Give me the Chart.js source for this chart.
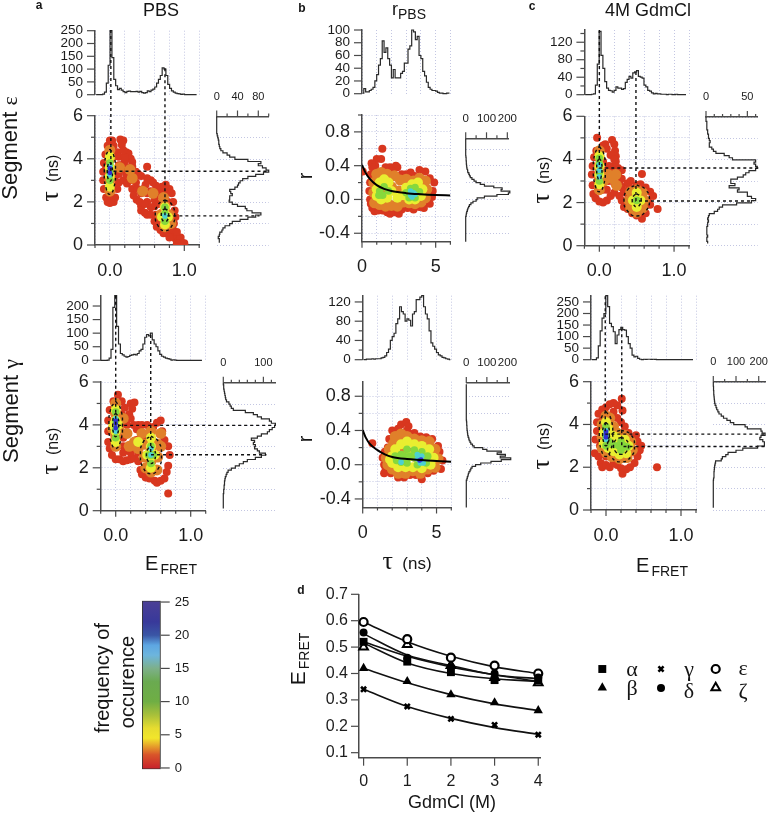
<!DOCTYPE html>
<html>
<head>
<meta charset="utf-8">
<script src="https://cdn.jsdelivr.net/npm/chart.js@4/dist/chart.umd.js"></script>
<style>
    html, body { margin: 0; padding: 0; background: #fff; }
    body { width: 769px; height: 813px; position: relative; overflow: hidden; }
    canvas { position: absolute; left: 0; top: 0; }
    .t { position: absolute; transform: translate(-50%, -50%); white-space: nowrap; color: #151515;
         font-family: "Liberation Sans", Arial, sans-serif; font-size: 18px; line-height: 1; }
    .rot { transform: translate(-50%, -50%) rotate(-90deg); }
    .tag { font-weight: bold; font-size: 12px; }
    .gk { font-family: "Liberation Serif", serif; }
    .sub { font-size: 14px; position: relative; top: 4px; margin-left: 2px; }
</style>
</head>
<body>
<div id="charts"></div>

<div class="t tag" style="left:39px;top:5px">a</div>
<div class="t tag" style="left:302px;top:8px">b</div>
<div class="t tag" style="left:532px;top:6px">c</div>
<div class="t tag" style="left:301px;top:590px">d</div>
<div class="t" style="left:161px;top:10px">PBS</div>
<div class="t" style="left:409px;top:9px">r<span class="sub" style="margin-left:0">PBS</span></div>
<div class="t" style="left:648px;top:10px">4M GdmCl</div>

<div class="t rot" style="left:10px;top:148px;font-size:22px">Segment <span class="gk">ε</span></div>
<div class="t rot" style="left:11px;top:411px;font-size:22px">Segment <span class="gk">γ</span></div>

<div class="t rot" style="left:50px;top:178px;font-size:16px"><span class="gk" style="font-size:26px">τ</span>&nbsp; (ns)</div>
<div class="t rot" style="left:50px;top:451px;font-size:16px"><span class="gk" style="font-size:26px">τ</span>&nbsp; (ns)</div>
<div class="t rot" style="left:305px;top:176px;font-size:20px">r</div>
<div class="t rot" style="left:305px;top:439px;font-size:20px">r</div>
<div class="t rot" style="left:541px;top:180px;font-size:16px"><span class="gk" style="font-size:26px">τ</span>&nbsp; (ns)</div>
<div class="t rot" style="left:541px;top:446px;font-size:16px"><span class="gk" style="font-size:26px">τ</span>&nbsp; (ns)</div>

<div class="t" style="left:171px;top:563px;font-size:20px">E<span class="sub">FRET</span></div>
<div class="t" style="left:407px;top:561px;font-size:17px"><span class="gk" style="font-size:26px">τ</span>&nbsp; (ns)</div>
<div class="t" style="left:662px;top:565px;font-size:20px">E<span class="sub">FRET</span></div>

<div class="t rot" style="left:102px;top:678px;font-size:20px">frequency of</div>
<div class="t rot" style="left:127px;top:682px;font-size:20px">occurence</div>

<div class="t rot" style="left:297px;top:659px;font-size:21px">E<span class="sub">FRET</span></div>
<div class="t" style="left:452px;top:802px">GdmCl (M)</div>

<div class="t gk" style="left:632px;top:669px;font-size:22px">α</div>
<div class="t gk" style="left:689px;top:669px;font-size:22px">γ</div>
<div class="t gk" style="left:743px;top:668px;font-size:22px">ε</div>
<div class="t gk" style="left:632px;top:688px;font-size:22px">β</div>
<div class="t gk" style="left:689px;top:691px;font-size:22px">δ</div>
<div class="t gk" style="left:743px;top:691px;font-size:22px">ζ</div>

<script>
// top histograms, one value per bin
const aTopE = [0,0,0,0,2,10,45,115,250,145,60,35,20,25,18,12,8,13,14,12,12,12,13,10,13,8,6,8,15,12,18,22,30,45,60,75,105,100,75,40,25,15,10,6,4,3,1,2,0,0,0,0,0,0,0];
const aBottomE = [0,0,0,0,1,8,40,195,238,125,60,25,20,15,12,14,18,20,22,20,25,35,40,60,85,95,90,100,75,60,50,35,22,15,12,8,6,4,1,2,1,0,0,0,0,0,0,0,0,0,0,0,0,0,0];
const bTopTau = [1,8,3,3,5,7,10,20,30,45,55,83,65,72,55,45,25,38,25,25,25,32,35,48,48,70,75,100,97,85,90,60,55,35,28,18,10,7,5,5,4,2,1,1,0,0,1,1];
const bBottomTau = [0,0,1,1,1,2,1,2,2,2,4,5,8,15,22,40,48,55,75,85,110,100,95,80,85,82,70,95,100,125,125,130,133,110,95,85,60,35,28,22,15,10,8,5,4,2,1,0];
const cTopE = [0,0,0,0,1,2,22,70,145,90,60,30,15,10,9,6,10,18,15,15,12,14,28,35,42,38,50,52,55,42,40,38,22,18,10,8,4,2,3,2,2,1,1,1,0,1,1,0,0,1,0,0,0,0,0];
const cBottomE = [0,0,0,8,60,125,180,200,277,230,157,143,121,70,107,130,140,130,128,100,70,50,20,12,15,6,2,0,2,1,2,2,1,2,1,0,0,0,0,0,0,0,0,0,0,0,0,0,0,0,0,0,0,0,0];

// side histograms, lifetime from 0.1 to 6.0 ns
const aTopTauSide = [5,5,3,5,6,10,12,16,25,30, 45,60,75,85,68,58,55,40,30,24, 25,25,30,27,25,35,40,42,45,50, 60,75,90,100,95,88,80,85,60,35, 25,20,12,8,6,5,4,4,3,2, 1,0,0,0,0,0,0,0,0,0];
const aBottomTauSide = [0,0,0,0,0,0,0,1,1,2, 2,3,3,4,5,7,9,12,20,30, 40,50,60,80,95,105,90,85,78,80, 75,78,70,85,95,110,115,122,128,130, 120,115,95,85,75,55,25,20,17,14, 8,6,5,4,3,2,1,1,0,0];
const cTopTauSide = [2,1,1,2,1,1,1,1,2,2, 3,2,3,4,10,14,16,20,37,55, 60,55,50,50,38,40,28,35,30,30, 38,45,48,52,60,62,60,58,60,32, 28,22,12,9,7,4,4,5,4,3, 3,2,2,1,1,1,1,0,0,0];
const cBottomTauSide = [0,0,0,0,0,0,0,0,0,0, 0,0,0,1,3,3,3,4,5,6, 8,10,35,40,55,65,100,130,195,225, 225,218,205,210,228,215,210,150,140,90, 75,60,45,35,25,20,15,12,8,6, 5,4,3,2,2,1,1,0,0,0];

// side histograms of r, from -0.5 in steps of 0.02
const bTopRSide = [0,0,0,0,0,0,0,0,0,0,0,0,0,0,0,2,3,5,8,10,14,18,25,35,50,55,90,150,205,212,170,175,135,90,70,50,40,30,22,18,15,10,9,6,5,4,3,3,2,2,1,0,0,0,0,0,0,0,0,0,0,0];
const bBottomRSide = [0,0,0,0,0,0,0,0,0,0,0,0,0,0,0,0,3,5,8,10,13,18,22,28,45,70,120,170,216,165,190,150,170,100,80,38,30,22,18,14,12,9,7,6,5,4,3,3,2,2,1,0,0,0,0,0,0,0,0,0,0,0,0,0,0,0,0,0,0,0,0,0,0];

// frequency clouds: [E or tau, tau or r], lowest frequency first
const aTopRed = [[0,4.85],[0.03,4.85],[-0.03,4.6],[0.05,4.6],[0.14,4.9],[0.18,4.85],[0.16,4.65],[0.22,4.3],[0.25,4.25],[-0.06,4.2],[0.1,4.3],[0.12,4.1],[-0.08,3.8],[0.28,4],[0.3,3.85],[0.3,3.65],[0.2,3.9],[-0.09,3.4],[-0.09,3],[-0.08,2.6],[-0.05,2.2],[-0.03,2],[0,1.95],[0.05,2],[0.07,2.2],[0.1,2.6],[0.12,2.9],[0.18,3],[0.23,2.85],[0.3,2.6],[0.32,2.3],[0.36,2.1],[0.4,2],[0.42,1.8],[0.42,1.6],[0.47,1.5],[0.5,1.4],[0.55,1.4],[0.6,1.1],[0.63,0.85],[0.68,0.7],[0.72,0.55],[0.77,0.55],[0.82,0.6],[0.85,0.5],[0.88,0.3],[0.92,0.2],[0.95,0.35],[0.97,0.1],[1,0.08],[0.9,0.08],[0.86,1],[0.88,1.3],[0.87,1.6],[0.85,2],[0.83,2.4],[0.8,2.6],[0.75,2.8],[0.7,2.7],[0.62,2.75],[0.55,3],[0.5,3.1],[0.5,3.63],[0.42,3.2],[0.38,3.3],[0.35,3.4],[0.3,3.3],[0.2,3.5],[0.15,3.5],[0.25,3.2],[0.35,2.9],[0.45,2.6],[0.55,2.5],[0.65,2.3],[0.5,2],[0.6,1.8],[0.7,1.5],[0.75,1],[0.8,1],[0.78,2],[0.42,2.4],[0.28,3],[0.15,3.7],[0.2,4.1],[0.12,3.3],[0.12,3.7],[0.18,4.4],[0.24,3.6],[0.22,3.3],[0.33,3.1],[0.37,2.6],[0.48,2.8],[0.58,2.9],[0.65,2.55],[0.72,2.4],[0.5,2.4],[0.6,2.1],[0.55,1.75],[0.47,1.9],[0.65,1.9],[0.62,1.4],[0.68,1],[0.85,0.7],[0.9,0.6],[0.8,0.35],[0.05,4.1],[0,4.4],[-0.05,3.6],[0.07,3.2],[0.07,2.7],[0,2.3],[0.75,2.4]];
const aTopOrange = [[0,2.5],[0,3],[0,3.5],[0,4],[0,4.4],[0.13,3.6],[0.27,3.5],[0.3,3.1],[0.44,2.5],[0.58,2.4],[0.74,0.85],[0.74,1.3],[0.74,1.8],[0.72,2.2],[0.68,1.4],[0.8,1.4],[0.82,1]];
const aTopYellow = [[0,2.7],[0,3.2],[0,3.6],[0,4.1],[0.74,0.95],[0.74,1.4],[0.74,1.75],[0.7,1.3],[0.78,1.3]];
const aTopGreen = [[0,3],[0,3.4],[0,3.8],[0.74,1.1],[0.74,1.45],[0.74,1.75]];
const aTopCyan = [[0,3.25],[0,3.65],[0.74,1.35]];
const aTopBlue = [[0,3.35],[0,3.55]];

const aBottomRed = [[0.03,5.4],[-0.03,5.1],[0.08,5.1],[0.12,4.8],[0.2,5],[0.25,5.05],[0.22,4.75],[0.18,4.5],[0.2,4.3],[0.24,4],[0.28,3.8],[-0.08,4.7],[-0.1,4.2],[-0.1,3.7],[-0.1,3.2],[-0.08,2.9],[-0.05,2.6],[0,2.4],[0.05,2.4],[0.1,2.3],[0.15,2.35],[0.2,2.4],[0.25,2.45],[0.3,2.3],[0.33,1.9],[0.35,1.7],[0.4,1.55],[0.45,1.5],[0.52,1.4],[0.55,1.3],[0.6,1.4],[0.65,1.5],[0.68,1.8],[0.7,2.1],[0.72,2.6],[0.7,3],[0.65,3.3],[0.62,3.7],[0.6,4.2],[0.55,4.1],[0.5,3.9],[0.42,4],[0.35,4],[0.3,4],[0.7,0.8],[0.1,3],[0.2,3],[0.3,2.7],[0.15,3.6],[0.1,3.4],[0.1,2.7],[0.2,2.7],[0.28,3.3],[0.36,3.4],[0.15,4],[0.08,4.5]];
const aBottomOrange = [[0,3],[0,3.5],[0,4],[0,4.5],[0,5],[-0.04,3.8],[0.04,3.8],[0.1,4.3],[0.15,3.6],[0.18,3],[0.25,3.2],[0.3,2.9],[0.47,1.8],[0.47,2.3],[0.47,2.8],[0.47,3.3],[0.47,3.7],[0.38,2.5],[0.56,2.5],[0.38,3.1],[0.56,3.1],[0.6,3],[0.55,1.9],[0.4,2],[0.35,3.6],[0.6,3.6]];
const aBottomYellow = [[0,3.2],[0,3.7],[0,4.2],[0,4.7],[-0.03,4],[0.03,4],[0.47,2],[0.47,2.5],[0.47,3],[0.47,3.4],[0.42,2.6],[0.52,2.6],[0.3,3.2]];
const aBottomGreen = [[0,3.4],[0,3.8],[0,4.2],[0,4.6],[0.47,2.2],[0.47,2.6],[0.47,3],[0.44,2.6],[0.5,2.6]];
const aBottomCyan = [[0,3.7],[0,4.3],[0.47,2.6],[0.47,2.9]];
const aBottomBlue = [[0,3.85],[0,4.05],[0,4.2]];

const bTopRed = [[1.38,0.6],[1,0.48],[1.3,0.48],[0.9,0.4],[0.65,0.43],[0.7,0.38],[0.05,0.33],[0.6,0.3],[0.55,0.2],[0.5,0.1],[0.55,0],[0.6,-0.05],[0.7,-0.1],[0.85,-0.14],[1.1,-0.13],[1.4,-0.13],[1.7,-0.15],[1.9,-0.17],[2.2,-0.15],[2.5,-0.17],[2.7,-0.12],[3.1,-0.1],[3.5,-0.12],[3.9,-0.09],[4.2,-0.1],[4.6,-0.05],[4.75,0.03],[4.8,0.1],[4.9,0.2],[4.6,0.25],[4.3,0.33],[3.9,0.35],[3.5,0.28],[3.3,0.32],[3,0.3],[2.7,0.3],[2.4,0.38],[2.3,0.4],[1.9,0.38],[1.6,0.38],[1.3,0.3],[0.8,0.3],[2.1,0.33]];
const bTopOrange = [[1,0.3],[1.3,0.32],[1.7,0.3],[0.8,0.2],[0.8,0.08],[0.85,-0.04],[1.2,-0.06],[1.6,-0.08],[2,-0.07],[2.4,-0.08],[2.8,-0.03],[3.2,-0.04],[3.6,-0.05],[4,-0.03],[4.3,0.02],[4.4,0.12],[4.3,0.22],[3.9,0.25],[3.5,0.22],[3,0.24],[2.6,0.23],[2.2,0.28],[2,0.15],[2.5,0.1],[1.5,0.1]];
const bTopYellow = [[1.2,0.2],[1.5,0.24],[1.8,0.2],[1,0.12],[1,0.04],[1.3,0],[1.7,0.02],[2,0.1],[2.4,0.02],[2.8,0.05],[3.2,0],[3.6,0],[4,0.04],[4.1,0.12],[3.8,0.2],[3.4,0.18],[3,0.14]];
const bTopGreen = [[1.2,0.1],[1.5,0.15],[1.8,0.1],[1.4,0.05],[1.15,0.05],[3,0.08],[3.3,0.13],[3.6,0.14],[3.9,0.09],[3.6,0.02],[3.2,0.02],[3.4,0.08]];
const bTopCyan = [[3.3,0.05],[3.5,0.08],[3.4,0.03],[3.6,0.06],[3.3,0.1]];
const bTopBlue = [];

const bBottomRed = [[0.65,0.25],[2,0.4],[2.4,0.42],[2.6,0.47],[2.95,0.5],[3.1,0.45],[2.6,0.3],[1.8,0.3],[1.7,0.2],[1.5,0.15],[1.35,0.08],[1.45,0],[1.55,-0.05],[1.45,-0.1],[1.9,-0.1],[2.4,-0.15],[2.8,-0.15],[3.2,-0.12],[3.6,-0.12],[4,-0.17],[4.4,-0.1],[4.8,-0.07],[5.3,-0.05],[5.4,0.05],[5.2,0.15],[5.1,0.22],[4.7,0.3],[4.3,0.32],[3.9,0.33],[3.5,0.37],[3.2,0.36],[2.9,0.38],[2.1,0.28],[3,0.4]];
const bBottomOrange = [[2.2,0.33],[2.6,0.36],[3,0.33],[2.9,0.3],[3.5,0.3],[4,0.28],[4.5,0.27],[4.9,0.18],[5.1,0.07],[4.9,-0.03],[4.4,-0.05],[3.9,-0.1],[3.4,-0.07],[2.9,-0.1],[2.4,-0.1],[2,-0.05],[1.7,0],[1.6,0.08],[1.8,0.18],[2.1,0.25],[2.5,0.15],[3,0.15],[3.5,0.1],[4,0.1],[2.2,0.05]];
const bBottomYellow = [[2,0.1],[2.2,0.18],[2.6,0.24],[3,0.27],[3.5,0.24],[4,0.22],[4.5,0.18],[4.8,0.08],[4.6,0],[4,-0.04],[3.4,-0.03],[2.9,-0.03],[2.4,-0.03],[2,0.02],[1.85,0.06],[2.6,0.1],[3.2,0.1],[3.8,0.1]];
const bBottomGreen = [[2.3,0.05],[2.6,0.12],[3,0.18],[3.5,0.17],[4,0.15],[4.4,0.1],[4.3,0.02],[3.7,0],[3,0.02],[2.6,0.03],[2.2,0.1],[3.2,0.1],[2.8,0.1],[3.5,0.08],[4,0.08]];
const bBottomCyan = [[2.6,0.03],[3.7,0.07],[4,0.1],[4.1,0.02],[3.9,0.02],[3.7,0.12]];
const bBottomBlue = [[3.95,0.06],[3.85,0.05]];

const cTopRed = [[-0.03,5],[0.08,4.7],[0.17,4.9],[0.2,4.7],[0.21,4.4],[0.22,4.15],[0.22,3.9],[0.05,4.65],[0.1,4.5],[-0.04,4.4],[-0.07,4.1],[-0.09,3.7],[-0.1,3.3],[-0.09,2.8],[-0.08,2.4],[-0.05,2.2],[0,2.05],[0.05,2],[0.1,2.1],[0.15,2.3],[0.2,2.45],[0.27,2.3],[0.25,3],[0.3,3.1],[0.3,3.5],[0.25,3.6],[0.2,3.7],[0.38,2.9],[0.42,3],[0.57,3.32],[0.55,2.85],[0.62,2.7],[0.68,2.5],[0.72,2.3],[0.78,1.7],[0.68,1.9],[0.62,1.5],[0.57,1.25],[0.5,1.4],[0.44,1.5],[0.38,1.7],[0.33,1.8],[0.3,2.1],[0.6,1.7],[0.65,2.1],[0.38,2.4],[0.5,2.8],[0.45,2.6],[0.3,2.7],[0.2,2.9],[0.12,3],[0.13,3.7],[0.15,4.2],[0.05,2.6],[0.1,2.6],[0.25,3.3],[0.28,2.8],[0.33,2.5],[0.2,4],[0.15,3.3],[0.1,3.5],[0.18,3.5],[0.05,3.9],[0.4,2.7],[0.48,1.7],[0.55,1.5],[0.52,2.5]];
const cTopOrange = [[0,2.6],[0,3.1],[0,3.6],[0,4.1],[0,4.4],[0.06,3],[0.12,3.3],[0.18,3.1],[0.23,2.8],[0.22,3.3],[0.5,1.55],[0.5,2.1],[0.5,2.6],[0.4,2.1],[0.6,2.1],[0.42,1.75],[0.58,1.75],[0.42,2.5],[0.58,2.45]];
const cTopYellow = [[0,2.85],[0,3.3],[0,3.7],[0,4.15],[0.5,1.8],[0.5,2.15],[0.5,2.45],[0.45,2.1],[0.55,2.1]];
const cTopGreen = [[0,3],[0,3.4],[0,3.8],[0,4.05],[0.5,2.1]];
const cTopCyan = [[0,3.5],[0,3.2],[0,3.75]];
const cTopBlue = [];

const cBottomRed = [[0.21,5.2],[0.22,4.65],[0.15,4.9],[0.1,5],[0.05,4.95],[0,4.8],[-0.05,4.7],[-0.1,4.5],[-0.12,4.1],[-0.12,3.7],[-0.14,3.3],[-0.15,2.65],[-0.1,2.5],[-0.07,2.2],[-0.05,2],[0,2.1],[0.05,2],[0.1,2.2],[0.15,2.1],[0.2,1.95],[0.22,1.7],[0.27,1.9],[0.32,2],[0.38,2.2],[0.42,2.5],[0.45,2.8],[0.47,3],[0.42,3.2],[0.4,3.5],[0.3,3.6],[0.25,3.9],[0.2,4.1],[0.15,4.3],[0.1,4.6],[0.68,2],[-0.08,3],[-0.05,4.2],[0.1,3.6],[0.35,2.7],[0.12,2.4],[0,2.5]];
const cBottomOrange = [[-0.05,3.4],[-0.05,4],[0,4.4],[0.05,4.3],[0.1,3.9],[0.15,3.6],[0.25,3.5],[0.33,3.2],[0.35,2.8],[0.28,2.45],[0.18,2.4],[0.08,2.5],[0,2.7],[-0.05,2.9],[0.12,3],[0.22,3]];
const cBottomYellow = [[-0.03,3.1],[-0.03,3.6],[0,4.1],[0.03,3.8],[0.08,3.5],[0.14,3.4],[0.25,3.3],[0.3,3],[0.27,2.65],[0.18,2.6],[0.1,2.75],[0.03,2.9],[0.05,3.2],[0.18,3]];
const cBottomGreen = [[0,3],[0,3.4],[0,3.9],[0.04,3.2],[0.1,3.05],[0.17,3],[0.24,3],[0.28,2.95],[0.2,2.8],[0.2,3.2]];
const cBottomCyan = [[0,3.7],[0,3.3],[0,3.5]];
const cBottomBlue = [[0,3.55],[0,3.4],[0,3.65]];

// contour rings, split by NaN
const N = [NaN, NaN];
const aTopRings = [[0,4.45],[0.053,4.14],[0.075,3.4],[0.053,2.66],[0,2.35],[-0.053,2.66],[-0.075,3.4],[-0.053,4.14],[0,4.45],N,
    [0,3.85],[0.025,3.72],[0.035,3.4],[0.025,3.08],[0,2.95],[-0.025,3.08],[-0.035,3.4],[-0.025,3.72],[0,3.85],N,
    [0.74,2.1],[0.83,1.88],[0.87,1.38],[0.83,0.88],[0.74,0.66],[0.65,0.88],[0.61,1.38],[0.65,1.88],[0.74,2.1],N,
    [0.74,1.68],[0.775,1.59],[0.79,1.38],[0.775,1.17],[0.74,1.08],[0.705,1.17],[0.69,1.38],[0.705,1.59],[0.74,1.68]];
const aBottomRings = [[0,5.1],[0.063,4.77],[0.09,4],[0.063,3.23],[0,2.9],[-0.063,3.23],[-0.09,4],[-0.063,4.77],[0,5.1],N,
    [0,4.55],[0.028,4.39],[0.04,4],[0.028,3.61],[0,3.45],[-0.028,3.61],[-0.04,4],[-0.028,4.39],[0,4.55],N,
    [0.47,3.48],[0.57,3.22],[0.61,2.6],[0.57,1.98],[0.47,1.72],[0.37,1.98],[0.33,2.6],[0.37,3.22],[0.47,3.48],N,
    [0.47,3],[0.51,2.88],[0.53,2.6],[0.51,2.32],[0.47,2.2],[0.43,2.32],[0.41,2.6],[0.43,2.88],[0.47,3]];
const cTopRings = [[0,4.6],[0.056,4.29],[0.08,3.55],[0.056,2.81],[0,2.5],[-0.056,2.81],[-0.08,3.55],[-0.056,4.29],[0,4.6],N,
    [0,4.05],[0.025,3.9],[0.035,3.55],[0.025,3.2],[0,3.05],[-0.025,3.2],[-0.035,3.55],[-0.025,3.9],[0,4.05],N,
    [0.5,2.82],[0.62,2.6],[0.67,2.1],[0.62,1.6],[0.5,1.38],[0.38,1.6],[0.33,2.1],[0.38,2.6],[0.5,2.82],N,
    [0.5,2.4],[0.54,2.31],[0.56,2.1],[0.54,1.89],[0.5,1.8],[0.46,1.89],[0.44,2.1],[0.46,2.31],[0.5,2.4]];
const cBottomRings = [[0,4.6],[0.063,4.29],[0.09,3.55],[0.063,2.81],[0,2.5],[-0.063,2.81],[-0.09,3.55],[-0.063,4.29],[0,4.6],N,
    [0,4.1],[0.03,3.94],[0.045,3.55],[0.03,3.16],[0,3],[-0.03,3.16],[-0.045,3.55],[-0.03,3.94],[0,4.1],N,
    [0.2,3.75],[0.33,3.52],[0.38,3],[0.33,2.48],[0.2,2.25],[0.07,2.48],[0.02,3],[0.07,3.52],[0.2,3.75],N,
    [0.2,3.4],[0.27,3.28],[0.3,3],[0.27,2.72],[0.2,2.6],[0.13,2.72],[0.1,3],[0.13,3.28],[0.2,3.4]];

// guides from the top histogram peak, through the cloud, to the side histogram peak
const aTopGuides = [[0.013,9.98],[0.013,3.42],[2.12,3.42],N,[0.74,8.2],[0.74,1.35],[2.01,1.35]];
const aBottomGuides = [[0,10.02],[0,3.98],[2.12,3.98],N,[0.467,8.19],[0.467,2.61],[2.01,2.61]];
const cTopGuides = [[0,10],[0,3.6],[2.13,3.6],N,[0.49,8.05],[0.49,2.07],[2.06,2.07]];
const cBottomGuides = [[-0.01,10],[-0.01,3.55],[2.13,3.55],N,[0.21,8.5],[0.21,2.97],[2.12,2.97]];

// anisotropy curves in panel b
const bTopCurve = [[0,0.41],[0.2,0.33],[0.5,0.25],[1,0.17],[1.5,0.125],[2,0.1],[3,0.075],[4,0.062],[5,0.053],[6,0.047]];
const bBottomCurve = [[0,0.405],[0.2,0.32],[0.5,0.24],[1,0.17],[1.5,0.12],[2,0.09],[3,0.066],[4,0.055],[5,0.043],[6,0.035]];
const bStrayDot = [[0,1.254]];

// panel d
const gdmcl = [0, 1, 2, 3, 4];
const alphaValues = [0.52, 0.445, 0.405, 0.375, 0.375];
const betaValues = [0.42, 0.37, 0.32, 0.29, 0.26];
const gammaValues = [0.34, 0.275, 0.228, 0.205, 0.168];
const deltaValues = [0.555, 0.46, 0.425, 0.4, 0.385];
const epsilonValues = [0.595, 0.53, 0.46, 0.43, 0.4];
const zetaValues = [0.5, 0.51, 0.43, 0.385, 0.365];
const alphaFit = [0.515, 0.44, 0.4, 0.38, 0.37];
const betaFit = [0.42, 0.365, 0.32, 0.285, 0.26];
const gammaFit = [0.34, 0.275, 0.23, 0.195, 0.17];
const deltaFit = [0.55, 0.47, 0.43, 0.395, 0.38];
const epsilonFit = [0.595, 0.52, 0.465, 0.425, 0.4];
const zetaFit = [0.52, 0.465, 0.425, 0.395, 0.37];

// colour bar
const frequencyRange = [-0.2, 25.2];
const frequencyStops = [0, 2, 4.5, 6, 8, 10, 13, 15, 17, 18.5, 20, 22, 25];
const frequencyColors = ["#c8242b", "#d9552a", "#f2e62b", "#e6dc30", "#a8c03a", "#6fae44", "#6aaa50", "#7db08a", "#6db5dd", "#5da6e2", "#3a56a5", "#38399a", "#4a3f96"];

const W = 769, H = 813;
const AXIS_BOX = 50; // room kept for tick labels, they are clipped to the scale box
const FONT = '"Liberation Sans", Arial, sans-serif';
const GRID = "#c3c6e2", AXIS = "#4a4a4a", INK = "#1c1c1c";
const LEVELS = [
    { color: "#d8371f", r: 4 },
    { color: "#e0802a", r: 5.5 },
    { color: "#e9ee30", r: 5 },
    { color: "#86d83c", r: 3.8 },
    { color: "#4cd0d0", r: 2.8 },
    { color: "#2f2fd0", r: 2.4 },
];

const xy = (rows) => rows.map((p) => ({ x: p[0], y: p[1] }));
const bins = (values, start, step) => values.map((v, i) => ({ x: start + i * step, y: v }));
const sideBins = (values, start, step) => values.map((v, i) => ({ x: v, y: start + i * step }));

// major and minor tick marks, the library only has one length
const tickMarks = {
    id: "tickMarks",
    afterDraw(chart) {
        const ctx = chart.ctx;
        Object.values(chart.scales).forEach((s) => {
            if (!s.options.markMajor) return;
            ctx.save();
            ctx.strokeStyle = AXIS;
            ctx.lineWidth = 1.2;
            s.ticks.forEach((t) => {
                const len = t.label !== "" ? s.options.markMajor : s.options.markMinor;
                const p = s.getPixelForValue(t.value);
                ctx.beginPath();
                if (s.options.position === "left") { ctx.moveTo(s.right, p); ctx.lineTo(s.right - len, p); }
                if (s.options.position === "right") { ctx.moveTo(s.left, p); ctx.lineTo(s.left + len, p); }
                if (s.options.position === "bottom") { ctx.moveTo(p, s.top); ctx.lineTo(p, s.top + len); }
                if (s.options.position === "top") { ctx.moveTo(p, s.bottom); ctx.lineTo(p, s.bottom - len); }
                ctx.stroke();
            });
            ctx.restore();
        });
    },
};

function axis(o) {
    const horizontal = o.pos === "bottom" || o.pos === "top";
    const shown = o.labels || [];
    return {
        type: "linear",
        position: o.pos,
        min: o.min,
        max: o.max,
        markMajor: o.major || 0,
        markMinor: o.minor || 0,
        afterFit(s) {
            if (horizontal) s.height = AXIS_BOX; else s.width = AXIS_BOX;
            s.paddingLeft = s.paddingRight = s.paddingTop = s.paddingBottom = 0;
        },
        grid: { display: !!o.grid, drawTicks: false, color: GRID, lineWidth: 1 },
        border: { display: !!o.line, color: AXIS, width: 1.5, dash: [1, 2] },
        ticks: {
            display: !!o.labels,
            stepSize: o.step,
            includeBounds: false,
            autoSkip: false,
            maxRotation: 0,
            minRotation: 0,
            padding: o.pad || 0,
            color: INK,
            font: { family: FONT, size: o.size || 12 },
            callback: (v) => {
                const value = Math.abs(v) < 1e-9 ? 0 : v;
                return shown.some((l) => Math.abs(l - value) < 1e-6) ? value.toFixed(o.digits || 0) : "";
            },
        },
    };
}

function plot(rect, datasets, scales, type) {
    const canvas = document.createElement("canvas");
    canvas.width = W;
    canvas.height = H;
    document.getElementById("charts").appendChild(canvas);
    const padding = { left: rect[0], top: rect[1], right: W - rect[2], bottom: H - rect[3] };
    Object.values(scales).forEach((s) => { if (s.display !== false) padding[s.position] -= AXIS_BOX; });
    return new Chart(canvas.getContext("2d"), {
        type: type || "scatter",
        data: type === "bar" ? datasets : { datasets },
        options: {
            responsive: false,
            animation: false,
            events: [],
            layout: { padding },
            plugins: { legend: { display: false }, tooltip: { enabled: false } },
            scales,
        },
        plugins: [tickMarks],
    });
}

const stepLine = (data, stepped) => ({
    data, stepped, showLine: true, pointRadius: 0, borderColor: "#2a2a2a", borderWidth: 1.2, clip: false,
});

// the first dataset is painted last, so lines and high frequencies go first
function cloud(levels, rings, guides, curve) {
    const sets = [];
    if (curve) sets.push({ data: xy(curve), showLine: true, cubicInterpolationMode: "monotone", pointRadius: 0, borderColor: "#000", borderWidth: 2 });
    if (guides) sets.push({ data: xy(guides), showLine: true, pointRadius: 0, borderColor: "#111", borderWidth: 1.4, borderDash: [3, 3], clip: false });
    if (rings) sets.push({ data: xy(rings), showLine: true, tension: 0.55, pointRadius: 0, borderColor: "#111", borderWidth: 1.4, borderDash: [3, 3] });
    for (let i = levels.length - 1; i >= 0; i--) {
        sets.push({ data: xy(levels[i]), pointRadius: LEVELS[i].r, pointBackgroundColor: LEVELS[i].color, pointBorderWidth: 0 });
    }
    return sets;
}

// hidden partner axes for the marginal histograms
const eGrid = { pos: "bottom", min: -0.2, max: 1.2, step: 0.2, grid: true };
const tauGrid = { pos: "left", min: 0, max: 6, step: 1, grid: true };
const eAxis = () => axis({ ...eGrid, line: true, major: 6, minor: 3, labels: [0, 1], digits: 1, pad: 15, size: 18 });
const tauAxis = () => axis({ ...tauGrid, line: true, major: 8, minor: 4, labels: [0, 2, 4, 6], pad: 12, size: 18 });
const rGrid = { pos: "left", min: -0.5, step: 0.2, grid: true };

function efretPanel(p) {
    plot(p.top, [stepLine(bins(p.topValues, p.eStart, 0.025), "middle")], {
        x: axis(eGrid),
        y: axis({ pos: "left", min: 0, max: p.topMax, step: p.topStep, line: true, major: 8, minor: 4, labels: p.topLabels, pad: 12, size: 13.5 }),
    });
    plot(p.side, [stepLine(sideBins(p.sideValues, 0.1, 0.1), "after")], {
        x: axis({ pos: "top", min: 0, max: p.sideMax, step: p.sideStep, line: true, major: 6, minor: 3, labels: p.sideLabels, pad: 13, size: 11 }),
        y: axis(tauGrid),
    });
    plot(p.main, cloud(p.levels, p.rings, p.guides), { x: eAxis(), y: tauAxis() });
}

function anisotropyPanel(p) {
    plot(p.top, [stepLine(bins(p.topValues, 0.06, 0.125), "middle")], {
        x: axis({ pos: "bottom", min: 0, max: 6, step: 1, grid: true }),
        y: axis({ pos: "left", min: 0, max: p.topMax, step: 20, line: true, major: 8, minor: 4, labels: p.topLabels, pad: 12, size: 13.5 }),
    });
    const sideSets = [stepLine(sideBins(p.sideValues, -0.5, 0.02), "after")];
    if (p.stray) sideSets.push({ data: xy(p.stray), pointRadius: 1, pointBackgroundColor: "#d8371f", pointBorderWidth: 0, clip: false });
    plot(p.side, sideSets, {
        x: axis({ pos: "top", min: 0, max: p.sideMax, step: 50, line: true, major: 6, minor: 3, labels: [0, 100, 200], pad: 13, size: 11.5 }),
        y: axis({ ...rGrid, max: p.sideTop }),
    });
    plot(p.main, cloud(p.levels, null, null, p.curve), {
        x: axis({ pos: "bottom", min: 0, max: 6, step: 1, grid: true, line: true, major: 6, minor: 3, labels: [0, 5], pad: 15, size: 18 }),
        y: axis({ ...rGrid, max: p.mainTop, line: true, major: 8, minor: 4, labels: [-0.4, 0, 0.4, 0.8], digits: 1, pad: 12, size: 18 }),
    });
}

efretPanel({
    top: [95, 30.7, 199.2, 94.7], main: [95, 115.7, 199.2, 245], side: [216.7, 116.5, 268.7, 245],
    topValues: aTopE, eStart: -0.185, topMax: 250, topStep: 50, topLabels: [0, 50, 100, 150, 200, 250],
    sideValues: aTopTauSide, sideMax: 100, sideStep: 20, sideLabels: [0, 40, 80],
    levels: [aTopRed, aTopOrange, aTopYellow, aTopGreen, aTopCyan, aTopBlue], rings: aTopRings, guides: aTopGuides,
});
efretPanel({
    top: [100.7, 295.7, 205.7, 360.3], main: [100.7, 382, 205.7, 510.7], side: [223.3, 382.7, 275, 510.7],
    topValues: aBottomE, eStart: -0.2, topMax: 238, topStep: 50, topLabels: [0, 50, 100, 150, 200],
    sideValues: aBottomTauSide, sideMax: 129, sideStep: 20, sideLabels: [0, 100],
    levels: [aBottomRed, aBottomOrange, aBottomYellow, aBottomGreen, aBottomCyan, aBottomBlue], rings: aBottomRings, guides: aBottomGuides,
});
anisotropyPanel({
    top: [362, 30, 450.4, 93.7], main: [362, 115, 450.4, 241.7], side: [465.7, 138.3, 509, 241.7],
    topValues: bTopTau, topMax: 100, topLabels: [0, 20, 40, 60, 80, 100],
    sideValues: bTopRSide, sideMax: 208, sideTop: 0.727, mainTop: 1, stray: bStrayDot,
    levels: [bTopRed, bTopOrange, bTopYellow, bTopGreen, bTopCyan, bTopBlue], curve: bTopCurve,
});
anisotropyPanel({
    top: [362.7, 295.7, 451.3, 359.7], main: [362.7, 381.7, 451.3, 507.5], side: [466.3, 383, 509.3, 507.5],
    topValues: bBottomTau, topMax: 133, topLabels: [0, 40, 80, 120],
    sideValues: bBottomRSide, sideMax: 209, sideTop: 0.955, mainTop: 0.97,
    levels: [bBottomRed, bBottomOrange, bBottomYellow, bBottomGreen, bBottomCyan, bBottomBlue], curve: bBottomCurve,
});
efretPanel({
    top: [584.4, 30, 689, 94.7], main: [584.4, 116.3, 689, 245.7], side: [706, 117, 757.7, 245.7],
    topValues: cTopE, eStart: -0.19, topMax: 148, topStep: 20, topLabels: [0, 40, 80, 120],
    sideValues: cTopTauSide, sideMax: 62.5, sideStep: 10, sideLabels: [0, 50],
    levels: [cTopRed, cTopOrange, cTopYellow, cTopGreen, cTopCyan, cTopBlue], rings: cTopRings, guides: cTopGuides,
});
efretPanel({
    top: [591, 295.7, 696, 359.7], main: [591, 381.7, 696, 510], side: [713.3, 382, 765.3, 510],
    topValues: cBottomE, eStart: -0.19, topMax: 277, topStep: 50, topLabels: [0, 50, 100, 150, 200, 250],
    sideValues: cBottomTauSide, sideMax: 229, sideStep: 50, sideLabels: [0, 100, 200],
    levels: [cBottomRed, cBottomOrange, cBottomYellow, cBottomGreen, cBottomCyan, cBottomBlue], rings: cBottomRings, guides: cBottomGuides,
});

// panel d
const fitSet = (values) => ({
    data: gdmcl.map((g, i) => ({ x: g, y: values[i] })),
    showLine: true, cubicInterpolationMode: "monotone", pointRadius: 0, borderColor: "#111", borderWidth: 1.6,
});
const SPECIES = [
    { values: alphaValues, style: "rect", r: 5.6, fill: "#000", bw: 0, key: [602.3, 669] },
    { values: betaValues, style: "triangle", r: 5.4, fill: "#000", bw: 0, key: [602.3, 687.7] },
    { values: gammaValues, style: "crossRot", r: 3.6, fill: "#000", bw: 2.6, key: [661, 669] },
    { values: deltaValues, style: "circle", r: 4, fill: "#000", bw: 0, key: [661, 688] },
    { values: epsilonValues, style: "circle", r: 4, fill: "#fff", bw: 2.2, key: [715.7, 669] },
    { values: zetaValues, style: "triangle", r: 5, fill: "#fff", bw: 2, key: [715.7, 687.7] },
];
const dChart = plot([359, 594.3, 540, 757.7], [
    ...SPECIES.map((s) => ({
        data: gdmcl.map((g, i) => ({ x: g, y: s.values[i] })),
        pointStyle: s.style, pointRadius: s.r, pointBackgroundColor: s.fill, pointBorderColor: "#000", pointBorderWidth: s.bw, clip: false,
    })),
    ...[alphaFit, betaFit, gammaFit, deltaFit, epsilonFit, zetaFit].map(fitSet),
], {
    x: axis({ pos: "bottom", min: -0.105, max: 4.04, step: 1, line: true, major: 8, minor: 8, labels: gdmcl, pad: 14, size: 16 }),
    y: axis({ pos: "left", min: 0.081, max: 0.7, step: 0.1, line: true, major: 8, minor: 8, labels: [0.1, 0.2, 0.3, 0.4, 0.5, 0.6, 0.7], digits: 1, pad: 11, size: 16 }),
});

// marker keys next to panel d
SPECIES.forEach((s) => {
    const ctx = dChart.ctx;
    ctx.save();
    ctx.fillStyle = s.fill;
    ctx.strokeStyle = "#000";
    ctx.lineWidth = s.bw;
    Chart.helpers.drawPoint(ctx, { pointStyle: s.style, radius: s.r, borderWidth: s.bw }, s.key[0], s.key[1]);
    ctx.restore();
});

// colour bar
const barScale = (ctx) => {
    const { chart } = ctx;
    if (!chart.chartArea) return frequencyColors[0];
    const y = chart.scales.y;
    const g = chart.ctx.createLinearGradient(0, y.getPixelForValue(frequencyRange[0]), 0, y.getPixelForValue(frequencyRange[1]));
    frequencyStops.forEach((s, i) => g.addColorStop((s - frequencyRange[0]) / (frequencyRange[1] - frequencyRange[0]), frequencyColors[i]));
    return g;
};
plot([142, 600.7, 160.7, 769.3], {
    labels: ["frequency of occurence"],
    datasets: [{ data: [frequencyRange], backgroundColor: barScale, borderColor: "#333", borderWidth: 1.2, borderSkipped: false, barPercentage: 1, categoryPercentage: 1 }],
}, {
    x: { display: false },
    y: axis({ pos: "right", min: frequencyRange[0], max: frequencyRange[1], step: 5, major: 9, labels: [0, 5, 10, 15, 20, 25], pad: 14, size: 13 }),
}, "bar");
</script>
</body>
</html>
